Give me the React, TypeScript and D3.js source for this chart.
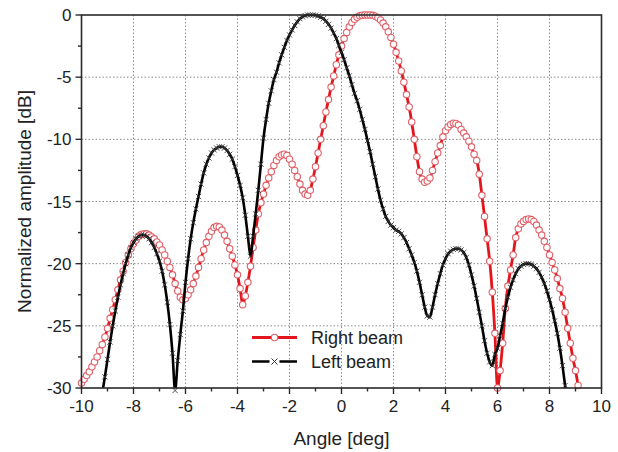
import React from "react";
import * as d3 from "d3";

// Sample grid: -10 … 10 deg in 0.1 deg steps
const angleStart = -10;
const angleStep = 0.1;

// Right beam, normalized amplitude [dB] (null = below the plotted range)
const rightBeam: (number | null)[] = [
  -29.6, -29.3, -29.0, -28.7, -28.3, -27.9, -27.5, -27.0, -26.5, -25.9,
  -25.2, -24.4, -23.7, -22.9, -22.1, -21.3, -20.6, -19.9, -19.3, -18.8,
  -18.4, -18.1, -17.8, -17.65, -17.6, -17.6, -17.7, -17.85, -18.0, -18.25,
  -18.5, -18.9, -19.3, -19.8, -20.3, -20.9, -21.6, -22.2, -22.7, -22.9,
  -22.8, -22.5, -22.1, -21.6, -21.0, -20.3, -19.6, -18.9, -18.3, -17.8,
  -17.4, -17.1, -17.0, -17.05, -17.3, -17.7, -18.2, -18.8, -19.4, -20.1,
  -20.9, -22.0, -23.3, -22.6, -21.5, -20.2, -18.7, -17.3, -16.0, -15.1,
  -14.4, -13.7, -13.1, -12.6, -12.1, -11.7, -11.4, -11.25, -11.2, -11.3,
  -11.6, -12.0, -12.5, -13.0, -13.6, -14.1, -14.4, -14.5, -14.1, -13.2,
  -12.2, -11.1, -10.0, -8.9, -7.8, -6.8, -5.8, -4.9, -4.0, -3.2,
  -2.5, -1.9, -1.4, -0.95, -0.6, -0.35, -0.18, -0.07, -0.02, 0,
  0, 0, -0.03, -0.1, -0.22, -0.4, -0.65, -0.95, -1.35, -1.8,
  -2.35, -3.0, -3.7, -4.5, -5.4, -6.4, -7.4, -8.6, -10.0, -11.4,
  -12.6, -13.2, -13.45, -13.35, -13.1, -12.5, -11.8, -11.1, -10.5, -9.8,
  -9.3, -9.0, -8.8, -8.7, -8.72, -8.85, -9.2, -9.5, -9.8, -10.15,
  -10.6, -11.2, -11.7, -12.8, -14.5, -16.2, -18.0, -19.8, -22.3, -25.6,
  -30.0, -28.6, -26.4, -23.6, -21.8, -20.5, -19.3, -17.9, -17.2, -16.8,
  -16.6, -16.45, -16.4, -16.45, -16.6, -16.9, -17.3, -17.7, -18.2, -18.7,
  -19.3, -19.9, -20.5, -21.2, -22.0, -22.8, -23.9, -25.2, -26.4, -27.6,
  -28.6, -29.8, -31.2, null, null, null, null, null, null, null,
  null,
];

// Left beam, normalized amplitude [dB] (null = below the plotted range)
const leftBeam: (number | null)[] = [
  null, null, null, null, null, null, null, -31.8, -30.4, -29.1,
  -27.7, -26.3, -25.0, -23.8, -22.7, -21.7, -20.8, -20.0, -19.3, -18.7,
  -18.3, -18.0, -17.8, -17.7, -17.7, -17.8, -18.0, -18.3, -18.7, -19.2,
  -19.8, -20.6, -21.7, -23.1, -24.9, -27.2, -30.2, -27.8, -25.7, -23.8,
  -21.5, -19.6, -18.0, -16.7, -15.6, -14.6, -13.6, -12.7, -12.0, -11.5,
  -11.1, -10.85, -10.7, -10.6, -10.6, -10.7, -10.9, -11.2, -11.6, -12.2,
  -12.9, -13.7, -14.7, -16.1, -17.8, -19.4, -17.8, -16.0, -14.1, -12.0,
  -9.9, -8.4, -7.1, -6.1, -5.2, -4.6, -3.85, -3.2, -2.6, -2.05,
  -1.6, -1.2, -0.85, -0.55, -0.3, -0.15, -0.05, 0, 0, 0,
  -0.02, -0.08, -0.18, -0.3, -0.5, -0.75, -1.05, -1.45, -1.9, -2.45,
  -3.0, -3.6, -4.25, -4.9, -5.6, -6.3, -6.9, -7.6, -8.4, -9.2,
  -10.1, -11.0, -12.0, -13.0, -14.0, -14.9, -15.6, -16.2, -16.6, -16.9,
  -17.1, -17.3, -17.4, -17.6, -17.9, -18.3, -18.8, -19.3, -19.9, -20.6,
  -21.5, -22.5, -23.5, -24.2, -24.3, -23.5, -22.5, -21.6, -20.8, -20.1,
  -19.6, -19.2, -19.0, -18.85, -18.8, -18.8, -18.9, -19.1, -19.5, -20.1,
  -20.9, -21.8, -22.8, -23.9, -25.0, -26.2, -27.2, -27.9, -28.2, -27.3,
  -26.8, -25.8, -24.8, -23.6, -22.7, -21.9, -21.3, -20.8, -20.4, -20.2,
  -20.05, -20.0, -20.0, -20.05, -20.2, -20.4, -20.7, -21.1, -21.6, -22.2,
  -22.9, -23.7, -24.6, -25.6, -26.8, -28.2, -29.8, -31.5, null, null,
  null, null, null, null, null, null, null, null, null, null,
  null,
];

const xTicks = [-10, -8, -6, -4, -2, 0, 2, 4, 6, 8, 10];
const xMinorTicks = [-9, -7, -5, -3, -1, 1, 3, 5, 7, 9];
const yTicks = [0, -5, -10, -15, -20, -25, -30];
const yMinorTicks = [-2.5, -7.5, -12.5, -17.5, -22.5, -27.5];

const seriesNames = ["Right beam", "Left beam"];

const W = 618;
const H = 452;
const plot = { left: 81.5, right: 601.5, top: 15, bottom: 388 };

const FONT = "'Liberation Sans', Arial, Helvetica, sans-serif";
const RED = "#e3161d";
const RED_MARK = "#e06068";
const AXIS = "#2a2a2a";

type Pt = { a: number; v: number | null };

function toPoints(values: (number | null)[]): Pt[] {
  return values.map((v, i) => ({
    a: Math.round((angleStart + i * angleStep) * 10) / 10,
    v,
  }));
}

export default function App() {
  const x = d3.scaleLinear().domain([-10, 10]).range([plot.left, plot.right]);
  const y = d3.scaleLinear().domain([0, -30]).range([plot.top, plot.bottom]);

  const right = toPoints(rightBeam);
  const left = toPoints(leftBeam);

  const line = d3
    .line<Pt>()
    .defined((d) => d.v !== null)
    .x((d) => x(d.a))
    .y((d) => y(d.v as number))
    .curve(d3.curveMonotoneX);

  const visible = (d: Pt) => d.v !== null && (d.v as number) >= -30.3;

  const crossPath = (cx: number, cy: number, s: number) =>
    `M${cx - s},${cy - s}L${cx + s},${cy + s}M${cx - s},${cy + s}L${cx + s},${cy - s}`;

  const legendX0 = 252;
  const legendX1 = 297;
  const legendMid = (legendX0 + legendX1) / 2;
  const legendY = [337.5, 361.5];

  return (
    <svg
      width={W}
      height={H}
      style={{ position: "absolute", left: 0, top: 0, background: "#fff" }}
      fontFamily={FONT}
    >
      <defs>
        <clipPath id="plot-clip">
          <rect
            x={plot.left}
            y={plot.top - 2}
            width={plot.right - plot.left}
            height={plot.bottom - plot.top + 2}
          />
        </clipPath>
      </defs>

      {/* dotted grid */}
      <g stroke="#8a8a8a" strokeWidth={1} strokeDasharray="1.5,2">
        {xTicks.slice(1, -1).map((t) => (
          <line key={`gx${t}`} x1={x(t)} x2={x(t)} y1={plot.top} y2={plot.bottom} />
        ))}
        {yTicks.slice(1, -1).map((t) => (
          <line key={`gy${t}`} x1={plot.left} x2={plot.right} y1={y(t)} y2={y(t)} />
        ))}
      </g>

      {/* curves */}
      <g clipPath="url(#plot-clip)">
        <path d={line(right) || ""} fill="none" stroke={RED} strokeWidth={2.8} />
      </g>
      <g>
        {right.filter(visible).map((d) => (
          <circle
            key={`r${d.a}`}
            cx={x(d.a)}
            cy={y(d.v as number)}
            r={3.2}
            fill="#fff"
            stroke={RED_MARK}
            strokeWidth={1.1}
          />
        ))}
      </g>
      <g clipPath="url(#plot-clip)">
        <path d={line(left) || ""} fill="none" stroke="#000" strokeWidth={2.6} />
      </g>
      <g stroke="#3a3a3a" strokeWidth={0.9}>
        {left.filter(visible).map((d) => (
          <path key={`l${d.a}`} d={crossPath(x(d.a), y(d.v as number), 2.6)} />
        ))}
      </g>

      {/* frame */}
      <rect
        x={plot.left}
        y={plot.top}
        width={plot.right - plot.left}
        height={plot.bottom - plot.top}
        fill="none"
        stroke={AXIS}
        strokeWidth={1.6}
      />

      {/* axis ticks */}
      <g stroke={AXIS} strokeWidth={1.4}>
        {xTicks.map((t) => (
          <line key={`tx${t}`} x1={x(t)} x2={x(t)} y1={plot.bottom} y2={plot.bottom + 6} />
        ))}
        {xMinorTicks.map((t) => (
          <line key={`mx${t}`} x1={x(t)} x2={x(t)} y1={plot.bottom} y2={plot.bottom + 3.5} />
        ))}
        {yTicks.map((t) => (
          <line key={`ty${t}`} x1={plot.left - 6} x2={plot.left} y1={y(t)} y2={y(t)} />
        ))}
        {yMinorTicks.map((t) => (
          <line key={`my${t}`} x1={plot.left - 3.5} x2={plot.left} y1={y(t)} y2={y(t)} />
        ))}
      </g>
      <g fontSize={17} fill="#222">
        {xTicks.map((t) => (
          <text key={`lx${t}`} x={x(t)} y={plot.bottom + 24} textAnchor="middle">
            {t}
          </text>
        ))}
        {yTicks.map((t) => (
          <text key={`ly${t}`} x={plot.left - 10} y={y(t) + 6} textAnchor="end">
            {t}
          </text>
        ))}
      </g>

      {/* axis titles */}
      <text
        x={(plot.left + plot.right) / 2}
        y={445}
        textAnchor="middle"
        fontSize={19}
        fill="#222"
      >
        Angle [deg]
      </text>
      <text
        transform={`translate(31,${(plot.top + plot.bottom) / 2}) rotate(-90)`}
        textAnchor="middle"
        fontSize={19}
        fill="#222"
      >
        Normalized amplitude [dB]
      </text>

      {/* legend */}
      <g>
        <line x1={legendX0} x2={legendX1} y1={legendY[0]} y2={legendY[0]} stroke={RED} strokeWidth={2.8} />
        <circle cx={legendMid} cy={legendY[0]} r={3.2} fill="#fff" stroke={RED_MARK} strokeWidth={1.1} />
        <line x1={legendX0} x2={legendX1} y1={legendY[1]} y2={legendY[1]} stroke="#000" strokeWidth={2.6} />
        <rect x={legendMid - 5} y={legendY[1] - 4} width={10} height={8} fill="#fff" />
        <path d={crossPath(legendMid, legendY[1], 3)} stroke="#333" strokeWidth={1} />
        {seriesNames.map((n, i) => (
          <text key={n} x={311} y={legendY[i] + 6.5} fontSize={18} fill="#222">
            {n}
          </text>
        ))}
      </g>
    </svg>
  );
}
